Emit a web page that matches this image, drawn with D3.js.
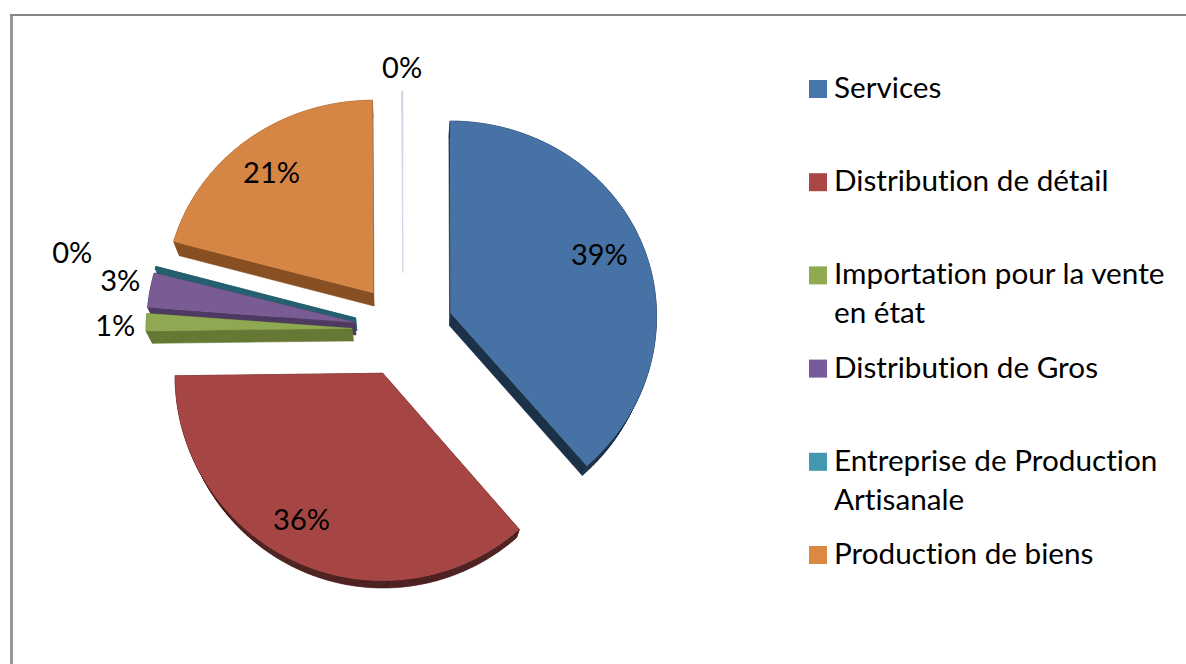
<!DOCTYPE html>
<html>
<head>
<meta charset="utf-8">
<script src="https://cdn.jsdelivr.net/npm/d3@7"></script>
<style>
html,body{margin:0;padding:0;background:#fff;overflow:hidden}
svg{display:block}
text{font-family:Lato,"Open Sans",sans-serif;fill:#000;font-variant-ligatures:none}
</style>
</head>
<body>
<svg id="chart" width="1186" height="664"></svg>
<script>
// ---- data ----
const categories = ["Services","Distribution de détail","Importation pour la vente en état","Distribution de Gros","Entreprise de Production Artisanale","Production de biens",""];
const shares = [38.7,36.1,1.4,2.8,0.2,20.7,0.1];
const legendLines = [["Services"],["Distribution de détail"],["Importation pour la vente","en état"],["Distribution de Gros"],["Entreprise de Production","Artisanale"],["Production de biens"]];

// ---- styles ----
const legendColors = ["#4776AA","#AA4644","#8FAA4F","#775A99","#4198AF","#DB8843"];
const faceColors   = ["#4672A5","#A64644","#8FA952","#7A5C95","#25606F","#D68644","#CBD5E3"];
const sideColors   = ["#1B3148","#4B1D1C","#657834","#4E3A61","#25606F","#885022","#CBD5E3"];
const explodeBy    = [51,49,51,49,49,49,60];
const radiusBy     = [206,207,206,208,208,208,197];
const labelRadius  = [.785,.81,1.15,1.15,1.41,.79,1.13];
const labelTurn    = [-2,4.2,-1.2,1,-1.3,-1.2,0];
const drawOrder    = [6,5,4,3,2,0,1];
const labelFont = 29, legendFont = 29.7;

// ---- geometry helpers ----
const cx = 403, cy = 330, persp = -0.000135, flatten = 0.962;
function project(X, Y){
  const w = 1 + persp * Y;
  return [cx + X / (1 + persp * Y * 0.5), cy + Y * flatten / w];
}
function lower([x,y]){               // the underside of the disc
  return [cx + (x - cx) * 0.975, y + 13 - (y - 300) * 0.02];
}
const svg = d3.select("#chart");
const line = d3.line();

// frame
svg.append("rect").attr("x",10).attr("y",14).attr("width",3).attr("height",650).attr("fill","#979797");
svg.append("rect").attr("x",10).attr("y",14).attr("width",1176).attr("height",2).attr("fill","#868686");

const arcs = d3.pie().sort(null).startAngle(0).endAngle(2*Math.PI)(shares);

function outline(a,i){
  const mid = (a.startAngle + a.endAngle)/2;
  const ox = explodeBy[i]*Math.sin(mid), oy = -explodeBy[i]*Math.cos(mid);
  const n = Math.max(2, Math.ceil((a.endAngle-a.startAngle)/0.01));
  const pts = [project(ox,oy)];
  d3.range(n+1).forEach(k=>{
    const t = a.startAngle + (a.endAngle-a.startAngle)*k/n;
    pts.push(project(ox + radiusBy[i]*Math.sin(t), oy - radiusBy[i]*Math.cos(t)));
  });
  return pts;
}

const pieG = svg.append("g");
drawOrder.forEach(i=>{
  const a = arcs[i], top = outline(a,i);
  const g = pieG.append("g").attr("class","slice");
  if(i !== 6){
    const closed = top.concat([top[0]]);
    d3.pairs(closed).forEach(([p,q])=>{
      g.append("path").attr("d",line([p,q,lower(q),lower(p)])+"Z")
        .attr("fill",sideColors[i]).attr("stroke",sideColors[i]).attr("stroke-width",.6);
    });
  }
  g.append("path").attr("d",line(top)+"Z")
    .attr("fill",faceColors[i]).attr("stroke",faceColors[i]).attr("stroke-width",i===6?.8:.4);
});

// value labels
arcs.forEach((a,i)=>{
  const mid = (a.startAngle + a.endAngle)/2;
  const at = mid + labelTurn[i]*Math.PI/180;
  const ox = explodeBy[i]*Math.sin(mid), oy = -explodeBy[i]*Math.cos(mid);
  const r = radiusBy[i]*labelRadius[i];
  const [x,y] = project(ox + r*Math.sin(at), oy - r*Math.cos(at));
  svg.append("text").attr("x",x).attr("y",y).attr("dy","0.35em")
    .attr("text-anchor","middle").attr("font-size",labelFont)
    .text(Math.round(a.value) + "%");
});

// legend
const rowY = d3.scaleLinear().domain([0,5]).range([89,555]);
legendLines.forEach((lines,i)=>{
  svg.append("rect").attr("x",809).attr("y",rowY(i)-9).attr("width",18).attr("height",18).attr("fill",legendColors[i]);
  lines.forEach((t,k)=>{
    svg.append("text").attr("x",834).attr("y",rowY(i)+9+k*39).attr("font-size",legendFont).text(t);
  });
});
</script>
</body>
</html>
